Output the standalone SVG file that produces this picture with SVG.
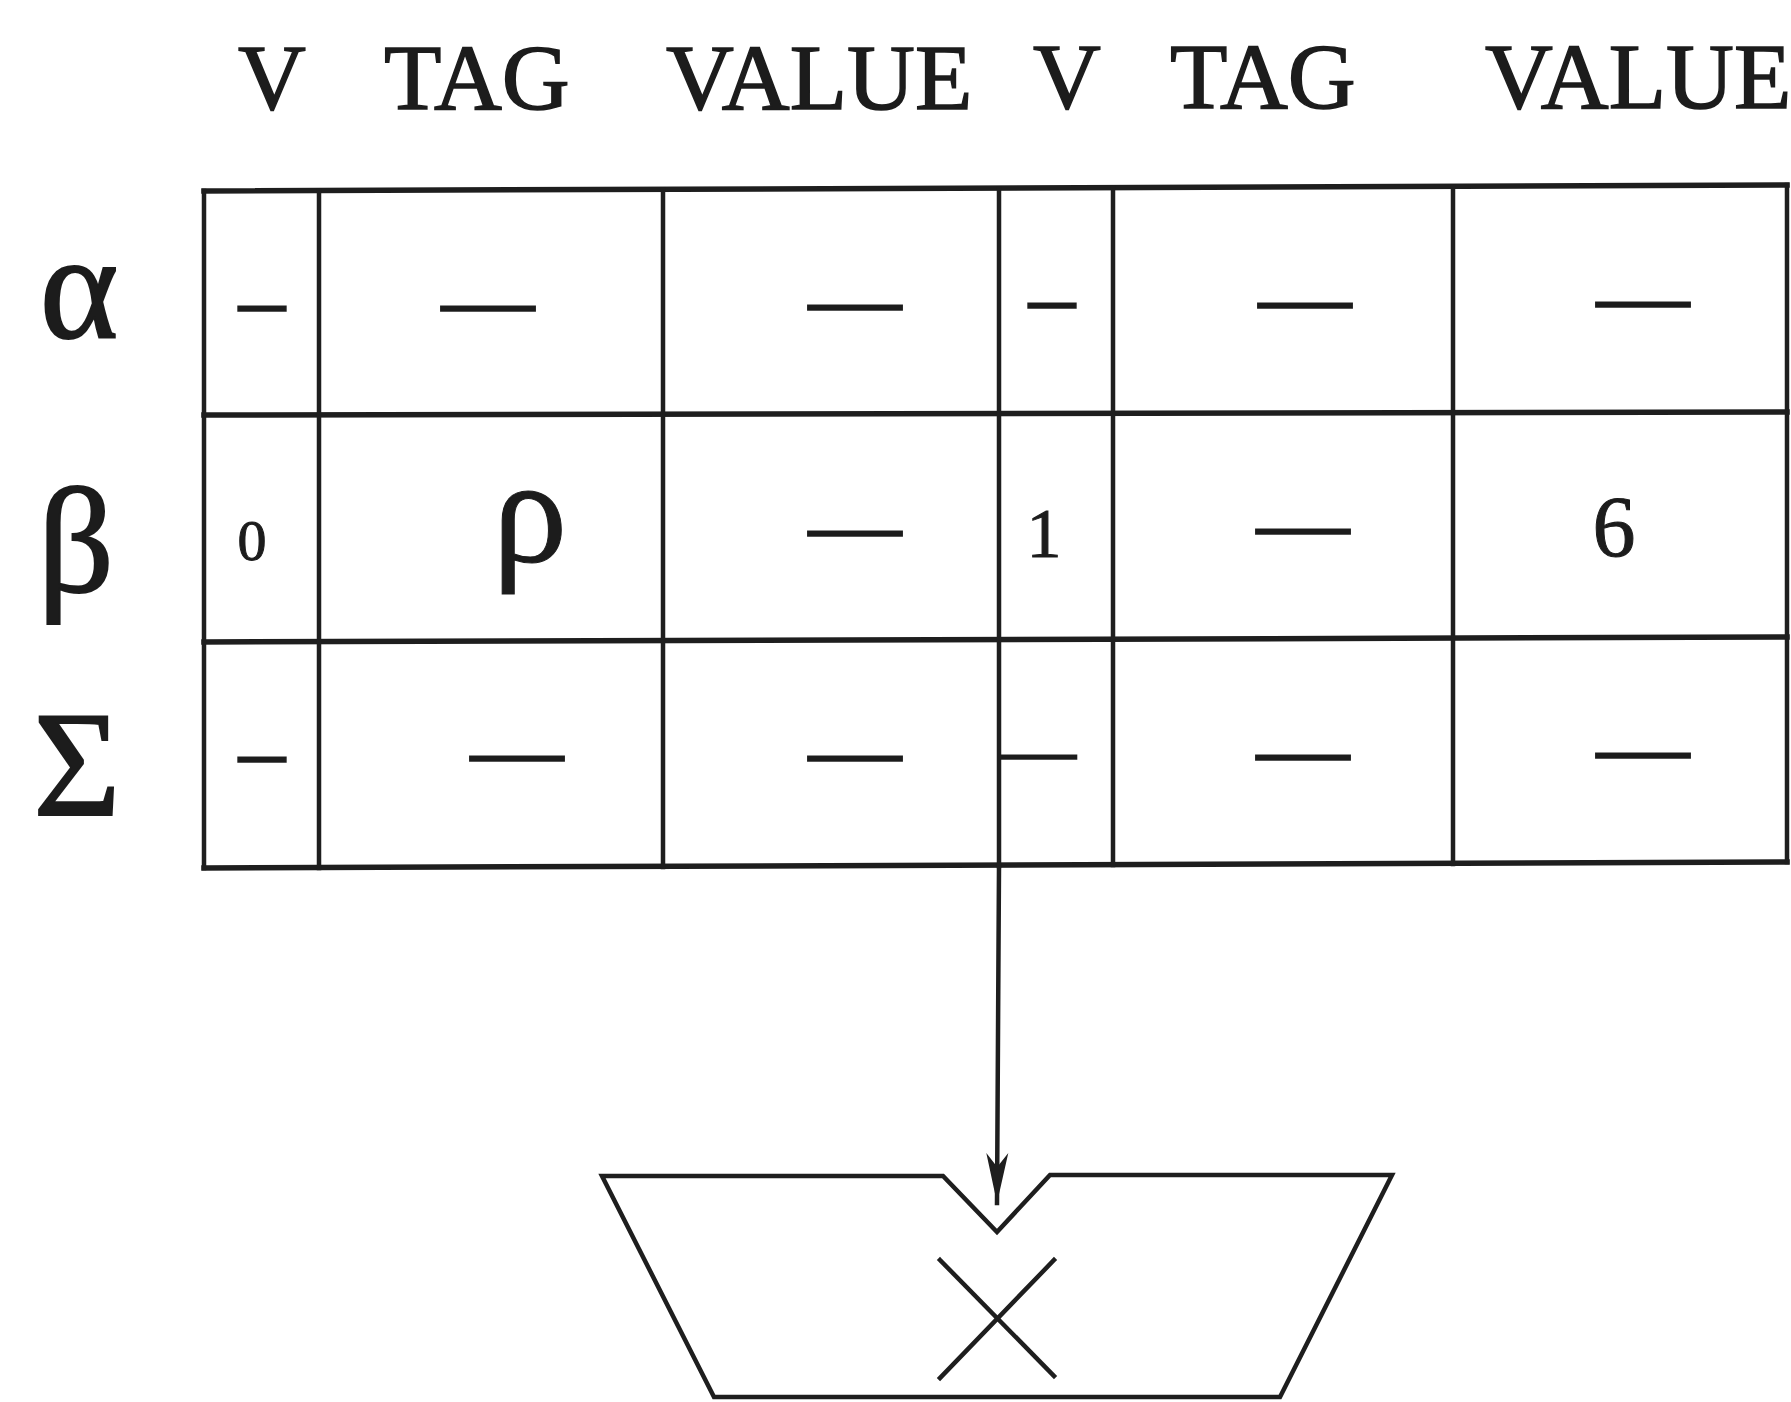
<svg xmlns="http://www.w3.org/2000/svg" width="1791" height="1402" viewBox="0 0 1791 1402">
<defs>
<style>
.hd{font-family:"Liberation Serif",serif;font-size:94px;fill:#1c1c1c;stroke:#1c1c1c;stroke-width:1.5}
.gk{font-family:"Liberation Serif",serif;font-size:150px;fill:#1c1c1c;stroke:#1c1c1c;stroke-width:2;text-anchor:middle}
.cell{font-family:"Liberation Serif",serif;fill:#1c1c1c;stroke:#1c1c1c;stroke-width:1;text-anchor:middle}
.dash{font-family:"Liberation Serif",serif;font-size:93px;fill:#1c1c1c;stroke:#1c1c1c;stroke-width:1.6;text-anchor:middle}
.ln{stroke:#1e1e1e;stroke-width:4.5;fill:none;stroke-linecap:square}
.hl{stroke:#1e1e1e;stroke-width:5.5;fill:none;stroke-linecap:square}
</style>
<marker id="ah" markerUnits="userSpaceOnUse" markerWidth="54" markerHeight="26" refX="50" refY="13" orient="auto" viewBox="0 0 54 26">
<path d="M0,2 L50,13 L0,24 L14,13 Z" fill="#1e1e1e"/>
</marker>
</defs>
<rect width="1791" height="1402" fill="#ffffff"/>

<g id="headers">
<text class="hd" x="238" y="109">V</text>
<text class="hd" x="384" y="109">TAG</text>
<text class="hd" x="666" y="109">VALUE</text>
<text class="hd" x="1033" y="108">V</text>
<text class="hd" x="1170" y="108">TAG</text>
<text class="hd" x="1485" y="108">VALUE</text>
</g>

<g id="row-labels">
<text class="gk" x="79" y="338">α</text>
<text class="gk" x="76" y="592">β</text>
<text class="gk" x="77" y="815">Σ</text>
</g>

<g id="table">
<line class="hl" x1="204" y1="191" x2="1787" y2="185"/>
<line class="hl" x1="204" y1="415" x2="1787" y2="412"/>
<line class="hl" x1="204" y1="642" x2="1787" y2="637"/>
<line class="hl" x1="204" y1="868" x2="1787" y2="862"/>
<line class="ln" x1="204" y1="191" x2="204" y2="868"/>
<line class="ln" x1="319" y1="191" x2="319" y2="868"/>
<line class="ln" x1="663" y1="190" x2="663" y2="867"/>
<line class="ln" x1="999" y1="189" x2="999" y2="866"/>
<line class="ln" x1="1113" y1="188" x2="1113" y2="865"/>
<line class="ln" x1="1453" y1="187" x2="1453" y2="864"/>
<line class="ln" x1="1787" y1="185" x2="1787" y2="862"/>
</g>

<g id="row-alpha">
<text class="dash" x="262" y="330">–</text>
<text class="dash" x="488" y="330">—</text>
<text class="dash" x="855" y="329">—</text>
<text class="dash" x="1052" y="327">–</text>
<text class="dash" x="1305" y="327">—</text>
<text class="dash" x="1643" y="326">—</text>
</g>

<g id="row-beta">
<text class="cell" x="252" y="560" font-size="58">0</text>
<text class="cell" x="530" y="562" font-size="150">ρ</text>
<text class="dash" x="855" y="555">—</text>
<text class="cell" x="1044" y="557" font-size="70">1</text>
<text class="dash" x="1303" y="553">—</text>
<text class="cell" x="1614" y="556" font-size="86">6</text>
</g>

<g id="row-sigma">
<text class="dash" x="262" y="781">–</text>
<text class="dash" x="517" y="780">—</text>
<text class="dash" x="855" y="780">—</text>
<text class="dash" x="1039" y="774" style="font-size:74px">—</text>
<text class="dash" x="1303" y="779">—</text>
<text class="dash" x="1643" y="777">—</text>
</g>

<g id="connectors">
<line class="ln" x1="999" y1="866" x2="997" y2="1203" marker-end="url(#ah)" stroke-linecap="butt"/>
</g>

<g id="multiplier">
<polygon class="ln" points="602,1176 943,1176 997,1232 1050,1175 1392,1175 1280,1397 714,1397" stroke-linejoin="miter"/>
<line class="ln" x1="940" y1="1260" x2="1054" y2="1376"/>
<line class="ln" x1="1054" y1="1260" x2="940" y2="1378"/>
</g>
</svg>
